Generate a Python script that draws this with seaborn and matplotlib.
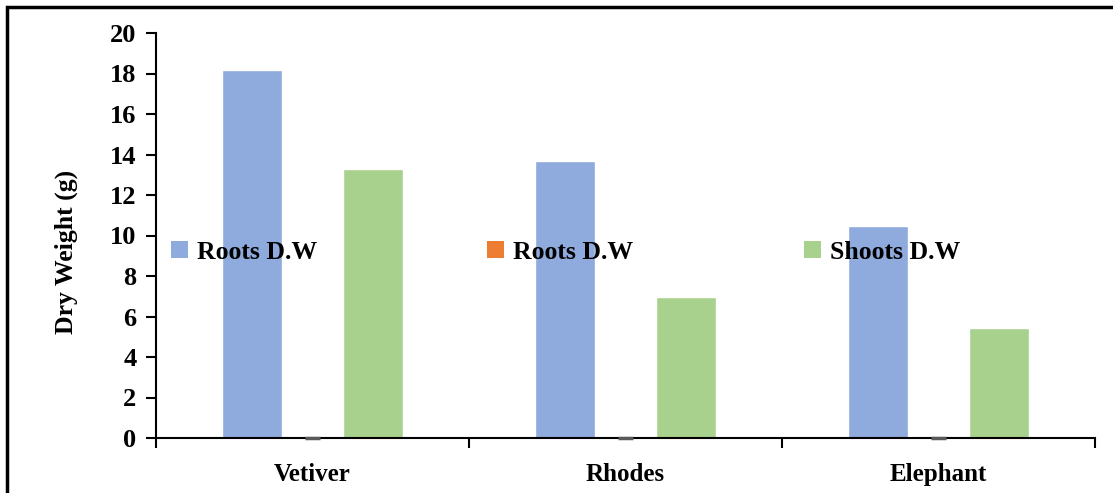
import matplotlib
matplotlib.use("Agg")
import matplotlib.pyplot as plt
from matplotlib.patches import Rectangle
import seaborn as sns
import pandas as pd

# Data
grasses = ["Vetiver", "Rhodes", "Elephant"]
series_labels = ["Roots D.W", "Roots D.W", "Shoots D.W"]
series_keys = ["roots_a", "roots_b", "shoots"]
roots_a = [18.15, 13.7, 10.48]
roots_b = [0.0, 0.0, 0.0]
shoots = [13.28, 6.97, 5.44]
colors = ["#8FAADC", "#ED7D31", "#A9D18E"]
y_ticks = [0, 2, 4, 6, 8, 10, 12, 14, 16, 18, 20]

rows = []
for key, vals in zip(series_keys, [roots_a, roots_b, shoots]):
    for g, v in zip(grasses, vals):
        rows.append({"Grass": g, "Series": key, "Dry": v})
df = pd.DataFrame(rows)

sns.set_theme(style="white")
plt.rcParams["font.family"] = ["Liberation Serif", "DejaVu Serif"]
plt.rcParams["font.weight"] = "bold"
for k in ["text.color", "axes.labelcolor", "xtick.color", "ytick.color"]:
    plt.rcParams[k] = "black"

fig = plt.figure(figsize=(11.13, 4.93), dpi=100)
ax = fig.add_axes([156 / 1113, 55 / 493, 939 / 1113, 405 / 493])

sns.barplot(data=df, x="Grass", y="Dry", hue="Series", order=grasses,
            hue_order=series_keys, palette=colors, width=0.58,
            saturation=1, errorbar=None, ax=ax, legend=False)

# zero-height bars show as a short grey dash on the baseline
for p in ax.containers[1]:
    cx = p.get_x() + p.get_width() / 2
    half = p.get_width() * 0.125
    ax.plot([cx - half, cx + half], [p.get_height(), p.get_height()],
            color="#595959", lw=2.5, solid_capstyle="butt", zorder=3, clip_on=False)

ax.set_xlim(-0.5, 2.5)
ax.set_ylim(0, 20)
ax.set_yticks(y_ticks)
ax.set_yticklabels([str(t) for t in y_ticks], fontsize=19, fontweight="bold")

# category boundaries as major ticks, labels on minor ticks
ax.set_xticks([-0.5, 0.5, 1.5, 2.5])
ax.set_xticklabels([])
ax.set_xticks([0, 1, 2], minor=True)
ax.set_xticklabels(grasses, minor=True, fontsize=18, fontweight="bold")
ax.tick_params(axis="x", which="major", direction="out", length=7, width=1.5,
               color="black", bottom=True)
ax.tick_params(axis="x", which="minor", length=0, pad=18, bottom=True)
ax.tick_params(axis="y", direction="out", length=7, width=1.5, color="black",
               pad=7, left=True)

for s in ["top", "right"]:
    ax.spines[s].set_visible(False)
for s in ["left", "bottom"]:
    ax.spines[s].set_color("black")
    ax.spines[s].set_linewidth(1.5)

ax.set_xlabel("")
ax.set_ylabel("Dry Weight (g)", fontsize=18.5, fontweight="bold")
ax.yaxis.set_label_coords(-0.083, 0.46)

handles = [Rectangle((0, 0), 1, 1, facecolor=c, edgecolor="none") for c in colors]
ax.legend(handles, series_labels, ncol=3, loc="center left",
          bbox_to_anchor=(0.016, 0.459, 0.84, 0.0), mode="expand",
          frameon=False, handlelength=0.65, handleheight=0.65, handletextpad=0.35,
          borderpad=0, borderaxespad=0,
          prop={"family": "Liberation Serif", "weight": "bold", "size": 18.5})

# outer frame around the figure
fig.add_artist(Rectangle((7 / 1113, -0.2), 1.2, 0.2 + (493 - 7) / 493,
                         transform=fig.transFigure, fill=False,
                         edgecolor="black", linewidth=2.5))

fig.savefig("out.png", dpi=100)
